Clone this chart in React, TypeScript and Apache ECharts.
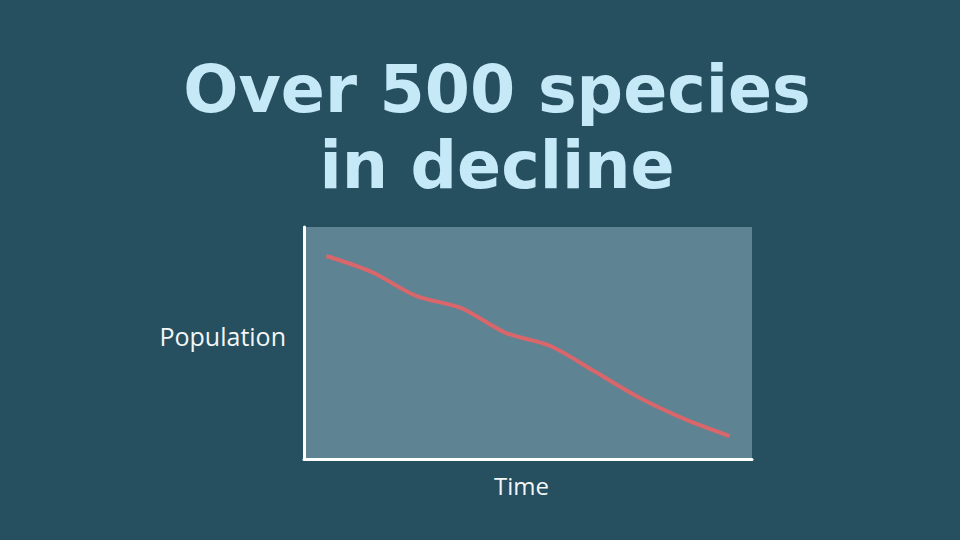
import * as echarts from 'echarts';
import { useEffect, useRef } from 'react';

const titleLines = ['Over 500 species', 'in decline'];
const timeSteps = ['1', '2', '3', '4', '5', '6', '7', '8', '9', '10'];
const population = [87.5, 80.7, 70.3, 65.1, 54.4, 48.7, 37.6, 26.3, 17.2, 9.9];

const App = () => {
    const divRef = useRef<HTMLDivElement>(null);

    useEffect(() => {
        document.body.style.margin = '0';
        const chart = echarts.init(divRef.current!, null, { renderer: 'svg' });

        chart.setOption({
            animation: false,
            backgroundColor: '#264f5f',
            title: {
                text: titleLines.join('\n'),
                left: 492,
                textAlign: 'center',
                top: 46,
                textStyle: {
                    color: '#c6e9f7',
                    fontFamily: 'DejaVu Sans',
                    fontWeight: 'bold',
                    fontSize: 65,
                    lineHeight: 76
                }
            },
            grid: {
                left: 304,
                top: 227,
                width: 448,
                height: 232,
                show: true,
                backgroundColor: '#5e8493',
                borderWidth: 0
            },
            xAxis: {
                type: 'category',
                data: timeSteps,
                boundaryGap: true,
                name: 'Time',
                nameLocation: 'middle',
                nameGap: 14,
                nameTextStyle: {
                    color: '#f2f6f7',
                    fontFamily: 'Open Sans',
                    fontSize: 24,
                    padding: [0, 13, 0, 0]
                },
                axisLine: { lineStyle: { color: '#ffffff', width: 3 } },
                axisTick: { show: false },
                axisLabel: { show: false },
                splitLine: { show: false }
            },
            yAxis: {
                type: 'value',
                min: 0,
                max: 100,
                name: 'Population',
                nameLocation: 'middle',
                nameRotate: 0,
                nameGap: 18,
                nameTextStyle: {
                    color: '#f2f6f7',
                    fontFamily: 'Open Sans',
                    fontSize: 25,
                    verticalAlign: 'bottom',
                    lineHeight: 14
                },
                axisLine: { show: true, lineStyle: { color: '#ffffff', width: 3 } },
                axisTick: { show: false },
                axisLabel: { show: false },
                splitLine: { show: false }
            },
            series: [
                {
                    type: 'line',
                    data: population,
                    smooth: 0.3,
                    showSymbol: false,
                    lineStyle: { color: '#d9666a', width: 4 }
                }
            ]
        });

        return () => {
            chart.dispose();
        };
    }, []);

    return <div ref={divRef} style={{ width: '960px', height: '540px' }}></div>;
};

export default App;
